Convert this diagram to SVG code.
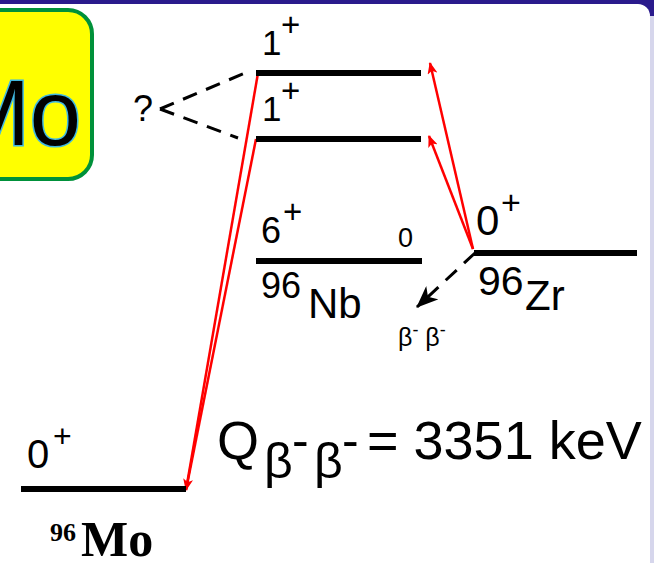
<svg xmlns="http://www.w3.org/2000/svg" width="654" height="563" viewBox="0 0 654 563">
<defs>
<style>
.t{font-family:"Liberation Sans",Arial,sans-serif;fill:#000}
.lvl{stroke:#000;stroke-width:6;fill:none}
.red{stroke:#ff0000;stroke-width:2.5;fill:none}
.dash{stroke:#000;stroke-width:3;fill:none;stroke-dasharray:15 10}
</style>
<marker id="ra" viewBox="0 0 12 10" refX="11" refY="5" markerWidth="12" markerHeight="10" markerUnits="userSpaceOnUse" orient="auto">
<path d="M0,0 L12,5 L0,10 L3,5 Z" fill="#ff0000"/>
</marker>
<marker id="ba" viewBox="0 0 22 18" refX="21" refY="9" markerWidth="22" markerHeight="18" markerUnits="userSpaceOnUse" orient="auto">
<path d="M0,0 L22,9 L0,18 L6,9 Z" fill="#000"/>
</marker>
</defs>
<rect x="0" y="0" width="654" height="563" fill="#d6d6ec"/>
<rect x="0" y="0" width="654" height="16" fill="#2a1a8c"/>
<rect x="-20" y="4" width="670" height="600" rx="12" fill="#ffffff"/>

<g id="badge">
<rect x="-30" y="10" width="122" height="169" rx="24" fill="#ffff00" stroke="#00913a" stroke-width="4"/>
<text class="t" x="81" y="145" font-size="92" text-anchor="end" stroke="#40b8e0" stroke-width="3" paint-order="stroke">Mo</text>
</g>

<g id="connectors">
<line class="dash" x1="160" y1="109" x2="245" y2="73"/>
<line class="dash" x1="160" y1="109" x2="238" y2="138"/>
<line class="red" x1="473" y1="249" x2="430" y2="63" marker-end="url(#ra)"/>
<line class="red" x1="473" y1="249" x2="429" y2="136" marker-end="url(#ra)"/>
<line class="red" x1="258" y1="73" x2="186" y2="490"/>
<line class="red" x1="256" y1="139" x2="186" y2="490" marker-end="url(#ra)"/>
<line class="dash" x1="475" y1="253" x2="417" y2="307" marker-end="url(#ba)"/>
</g>

<g id="level-1plus-upper">
<line class="lvl" x1="256" y1="73" x2="421" y2="73"/>
<text class="t" x="262" y="55" font-size="35">1</text>
<text class="t" x="281" y="36" font-size="33">+</text>
</g>
<g id="level-1plus-lower">
<line class="lvl" x1="256" y1="139" x2="421" y2="139"/>
<text class="t" x="262" y="121" font-size="35">1</text>
<text class="t" x="281" y="102" font-size="33">+</text>
</g>
<g id="question">
<text class="t" x="133" y="121" font-size="36">?</text>
</g>
<g id="level-nb96">
<line class="lvl" x1="256" y1="261" x2="422" y2="261"/>
<text class="t" x="261" y="243" font-size="36">6</text>
<text class="t" x="283" y="223" font-size="33">+</text>
<text class="t" x="398" y="247" font-size="27">0</text>
<text class="t" x="261" y="298" font-size="36">96</text>
<text class="t" x="308" y="318" font-size="42">Nb</text>
</g>
<g id="level-zr96">
<line class="lvl" x1="474" y1="253" x2="637" y2="253"/>
<text class="t" x="476" y="235" font-size="42">0</text>
<text class="t" x="501" y="214" font-size="34">+</text>
<text class="t" x="478" y="295" font-size="41">96</text>
<text class="t" x="525" y="310" font-size="42">Zr</text>
</g>
<g id="bb-label">
<text class="t" x="398" y="346" font-size="25">β<tspan font-size="18" dy="-10">-</tspan><tspan font-size="25" dy="10"> β</tspan><tspan font-size="18" dy="-10">-</tspan></text>
</g>
<g id="level-mo96">
<line class="lvl" x1="21" y1="489" x2="186" y2="489"/>
<text class="t" x="27" y="468" font-size="40">0</text>
<text class="t" x="53" y="447" font-size="32">+</text>
<text x="50" y="541" font-size="26" font-weight="bold" font-family="Liberation Serif,Times New Roman,serif">96</text>
<text x="81" y="556" font-size="50" font-weight="bold" font-family="Liberation Serif,Times New Roman,serif">Mo</text>
</g>
<g id="q-value">
<text class="t" x="217" y="459" font-size="54">Q</text>
<text class="t" x="264" y="478" font-size="50">β</text>
<text class="t" x="292" y="457" font-size="50">-</text>
<text class="t" x="314" y="478" font-size="50">β</text>
<text class="t" x="342" y="457" font-size="50">-</text>
<text class="t" x="367" y="459" font-size="54">= 3351 keV</text>
</g>
</svg>
